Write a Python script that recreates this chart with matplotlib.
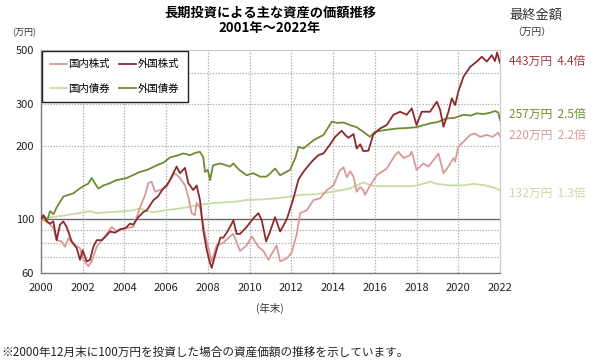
import matplotlib
matplotlib.use("Agg")
import matplotlib.pyplot as plt
from matplotlib.ticker import FixedLocator, NullLocator, NullFormatter
from matplotlib.lines import Line2D

plt.rcParams['font.family'] = ['Noto Sans CJK JP', 'DejaVu Sans']

# ---- data (value of 100万円 invested) ----
fb_t = [2000.0, 2000.15, 2000.3, 2000.43, 2000.6, 2000.75, 2001.07, 2001.3, 2001.55, 2001.8, 2002.03, 2002.25,
        2002.43, 2002.6, 2002.75, 2003.0, 2003.31, 2003.6, 2004.1, 2004.4, 2004.75, 2005.1, 2005.55, 2005.9,
        2006.18, 2006.5, 2006.82, 2007.14, 2007.4, 2007.62, 2007.78, 2007.86, 2008.0, 2008.1, 2008.25, 2008.6,
        2009.06, 2009.22, 2009.5, 2009.86, 2010.17, 2010.5, 2010.8, 2011.0, 2011.22, 2011.46, 2011.94, 2012.2,
        2012.34, 2012.58, 2013.06, 2013.54, 2013.94, 2014.2, 2014.5, 2014.8, 2015.13, 2015.5, 2015.77, 2016.01,
        2016.4, 2017.05, 2017.5, 2018.0, 2018.65, 2019.0, 2019.45, 2019.8, 2020.25, 2020.6, 2020.89, 2021.2,
        2021.5, 2021.76, 2021.92, 2022.0]
fb_v = [100, 103, 99, 108, 105, 112, 124, 126, 128, 133, 137, 140,
        148, 140, 134, 138, 141, 145, 148, 152, 157, 160, 167, 172,
        180, 183, 187, 184, 188, 190, 180, 157, 160, 145, 167, 170,
        165, 170, 160, 152, 155, 150, 150, 155, 162, 152, 160, 180,
        199, 196, 212, 223, 253, 250, 251, 245, 240, 228, 219, 230,
        233, 237, 238, 240, 249, 252, 261, 262, 270, 268, 274, 272,
        275, 280, 276, 257]

fs_t = [2000.0, 2000.11, 2000.27, 2000.43, 2000.59, 2000.75, 2000.91, 2001.07, 2001.23, 2001.47, 2001.71, 2001.87,
        2002.0, 2002.19, 2002.35, 2002.51, 2002.67, 2002.91, 2003.1, 2003.31, 2003.55, 2003.79, 2004.05, 2004.27,
        2004.42, 2004.66, 2004.9, 2005.07, 2005.39, 2005.6, 2005.86, 2006.02, 2006.18, 2006.34, 2006.5, 2006.66,
        2006.9, 2007.06, 2007.3, 2007.46, 2007.62, 2007.78, 2007.94, 2008.1, 2008.18, 2008.42, 2008.6, 2008.74,
        2008.9, 2009.06, 2009.22, 2009.38, 2009.54, 2009.86, 2010.18, 2010.42, 2010.58, 2010.79, 2010.98, 2011.22,
        2011.46, 2011.78, 2012.1, 2012.34, 2012.6, 2012.9, 2013.06, 2013.3, 2013.54, 2013.86, 2014.1, 2014.41,
        2014.6, 2014.74, 2014.98, 2015.13, 2015.3, 2015.45, 2015.69, 2015.93, 2016.25, 2016.57, 2016.89, 2017.21,
        2017.53, 2017.77, 2018.0, 2018.25, 2018.65, 2018.97, 2019.13, 2019.29, 2019.53, 2019.69, 2019.85, 2020.0,
        2020.25, 2020.57, 2020.89, 2021.13, 2021.37, 2021.61, 2021.76, 2021.86, 2022.0]
fs_v = [100, 104, 98, 96, 98, 82, 95, 98, 93, 81, 76, 68,
        74.5, 67, 68, 77, 82, 82, 85, 89, 88, 91, 92, 96,
        95, 102, 107, 109, 120, 124, 134, 138, 145, 155, 165, 155,
        163, 141, 132, 138, 120, 90, 75, 66, 63, 75, 84, 84,
        88, 93, 99, 87, 87, 93, 101, 106, 99, 81, 89, 102,
        89, 100, 122, 146, 158, 170, 176, 184, 187, 204, 219, 232,
        222, 217, 225, 196, 204, 191, 192, 224, 237, 245, 270, 278,
        270, 287, 245, 278, 278, 306, 283, 241, 278, 316, 296, 336,
        388, 426, 448, 469, 448, 476, 450, 488, 443]

ds_t = [2000.0, 2000.27, 2000.45, 2000.59, 2000.75, 2000.99, 2001.15, 2001.31, 2001.55, 2001.87, 2002.03, 2002.27,
        2002.43, 2002.67, 2003.07, 2003.39, 2003.63, 2004.11, 2004.42, 2004.75, 2004.99, 2005.14, 2005.3, 2005.46,
        2005.7, 2006.02, 2006.18, 2006.42, 2006.66, 2006.9, 2007.06, 2007.22, 2007.38, 2007.46, 2007.62, 2007.86,
        2008.18, 2008.42, 2008.74, 2009.06, 2009.22, 2009.54, 2009.86, 2010.1, 2010.42, 2010.66, 2010.9, 2011.1,
        2011.3, 2011.46, 2011.78, 2012.02, 2012.26, 2012.42, 2012.74, 2013.06, 2013.38, 2013.7, 2014.02, 2014.3,
        2014.5, 2014.66, 2014.82, 2014.98, 2015.13, 2015.3, 2015.45, 2015.53, 2015.69, 2015.85, 2016.09, 2016.57,
        2016.97, 2017.13, 2017.37, 2017.69, 2017.77, 2018.0, 2018.33, 2018.57, 2018.89, 2019.05, 2019.29, 2019.53,
        2019.77, 2019.85, 2020.0, 2020.25, 2020.57, 2020.8, 2021.05, 2021.37, 2021.65, 2021.92, 2022.0]
ds_v = [100, 98, 95, 92, 82, 81, 77, 83.5, 79, 76, 68, 64,
        67, 77, 85, 93, 89, 92, 93, 112, 126, 141, 143, 130,
        132, 136, 145, 155, 148, 138, 124, 106, 104, 117, 112, 87,
        67, 78, 80, 85, 87, 74, 78, 85, 77, 74, 68, 73,
        78, 67, 69, 73, 87, 106, 109, 120, 122, 132, 138, 158,
        164, 149, 158, 150, 130, 136, 132, 126, 134, 141, 152, 162,
        184, 190, 179, 184, 190, 160, 170, 165, 179, 187, 155, 165,
        179, 173, 199, 209, 223, 226, 219, 223, 219, 228, 220]

db_t = [2000.0, 2000.5, 2001.23, 2001.8, 2002.35, 2002.67, 2003.3, 2004.0, 2004.42, 2004.75, 2005.1, 2005.39,
        2006.0, 2006.34, 2007.0, 2007.62, 2008.4, 2009.22, 2009.86, 2010.82, 2011.6, 2012.42, 2013.2, 2014.0,
        2014.8, 2015.45, 2015.8, 2016.09, 2017.0, 2017.85, 2018.3, 2018.65, 2019.0, 2019.6, 2020.2, 2020.72,
        2021.3, 2021.7, 2022.0]
db_v = [100, 102, 104, 106, 108, 106, 107, 108, 109, 111, 108, 107,
        109, 110, 112, 115, 117, 118, 120, 121, 123, 126, 127, 130,
        134, 142, 138, 137, 137, 137, 140, 143, 140, 138, 138, 140,
        138, 135, 132]

series_names = ['国内株式', '外国株式', '国内債券', '外国債券']
final_labels = ['220万円  2.2倍', '443万円  4.4倍', '132万円  1.3倍', '257万円  2.5倍']
label_y = [222, 448, 128, 272]

c_ds = '#d99a9a'
c_fs = '#8c2a2e'
c_db = '#c8dba3'
c_fb = '#6e8c33'
series_colors = [c_ds, c_fs, c_db, c_fb]
label_colors = [c_ds, '#9e3a3e', c_db, c_fb]

x_ticks = list(range(2000, 2023, 2))
y_ticks = [60, 100, 200, 300, 500]
y_grid = [70, 80, 90, 200, 300, 400]

fig = plt.figure(figsize=(6, 3.6), dpi=100)
ax = fig.add_axes([41/600, 1-273/360, (500-41)/600, (273-50)/360])

ax.set_yscale('log')
ax.set_xlim(2000, 2022)
ax.set_ylim(60, 500)

grid_kw = dict(color='#b4b4b4', lw=0.9, ls=(0, (1.2, 1.2)), zorder=1)
for g in y_grid:
    ax.axhline(g, **grid_kw)
ax.axhline(100, color='#6a6a6a', lw=1.0, zorder=1)
for xv in x_ticks[1:-1]:
    ax.axvline(xv, **grid_kw)

ax.plot(db_t, db_v, color=c_db, lw=1.3, zorder=3)
ax.plot(ds_t, ds_v, color=c_ds, lw=1.3, zorder=4)
ax.plot(fb_t, fb_v, color=c_fb, lw=1.3, zorder=5)
ax.plot(fs_t, fs_v, color=c_fs, lw=1.3, zorder=6)

ax.yaxis.set_major_locator(FixedLocator(y_ticks))
ax.yaxis.set_minor_locator(NullLocator())
ax.yaxis.set_minor_formatter(NullFormatter())
ax.set_yticklabels([str(v) for v in y_ticks])
ax.set_xticks(x_ticks)
ax.set_xticklabels([str(v) for v in x_ticks])
ax.tick_params(axis='y', length=0, labelsize=8, colors='#222222', pad=5)
ax.tick_params(axis='x', length=0, labelsize=8, colors='#222222', pad=7)

for side in ['left', 'bottom']:
    ax.spines[side].set_color('#7a7a7a')
    ax.spines[side].set_linewidth(1.0)
for side in ['top', 'right']:
    ax.spines[side].set_color('#c8c8c8')
    ax.spines[side].set_linewidth(0.8)

# legend: row-wise order (国内株式, 外国株式 / 国内債券, 外国債券)
order = [0, 2, 1, 3]
handles = [Line2D([], [], color=series_colors[i], lw=1.3) for i in order]
labels = [series_names[i] for i in order]
leg = ax.legend(handles, labels, loc='upper left', ncol=2, fontsize=7.5,
                handlelength=1.6, handletextpad=0.15, columnspacing=0.9,
                labelspacing=1.35, borderpad=0.8, fancybox=False, framealpha=1,
                bbox_to_anchor=(0.0, 1.0), borderaxespad=0.1)
leg.get_frame().set_edgecolor('#222222')
leg.get_frame().set_linewidth(1.0)
leg.set_zorder(10)

for txt, yv, col in zip(final_labels, label_y, label_colors):
    ax.text(1.02, yv, txt, transform=ax.get_yaxis_transform(), color=col,
            fontsize=8.5, va='center', ha='left')

fig.text(270/600, 1-13/360, '長期投資による主な資産の価額推移', ha='center', va='center',
         fontsize=9.5, fontweight='bold')
fig.text(270/600, 1-28/360, '2001年～2022年', ha='center', va='center',
         fontsize=9.5, fontweight='bold')
fig.text(509/600, 1-15/360, '最終金額', ha='left', va='center', fontsize=9.5, color='#333333')
fig.text(512/600, 1-32/360, '（万円）', ha='left', va='center', fontsize=7, color='#333333')
fig.text(12/600, 1-33/360, '(万円)', ha='left', va='center', fontsize=6.5, color='#333333')
fig.text(270/600, 1-308/360, '(年末)', ha='center', va='center', fontsize=7.5, color='#333333')
fig.text(1/600, 1-352/360, '※2000年12月末に100万円を投資した場合の資産価額の推移を示しています。',
         ha='left', va='center', fontsize=8.4, color='#222222')

fig.savefig('out.png', dpi=100, facecolor='white')
